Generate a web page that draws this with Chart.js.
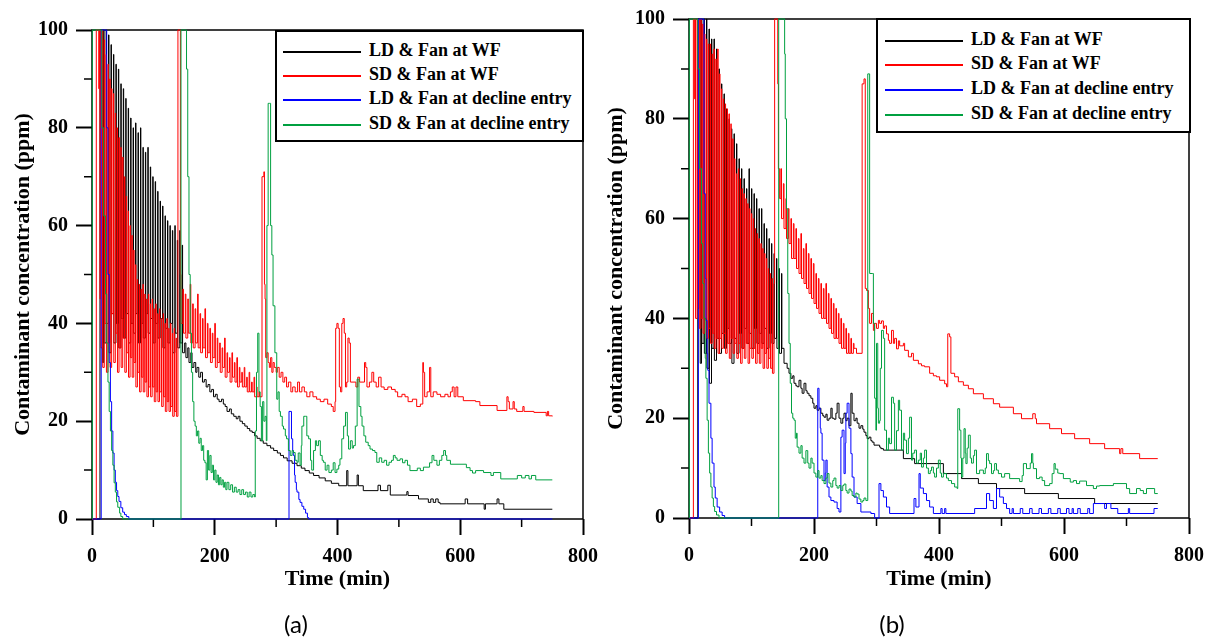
<!DOCTYPE html>
<html>
<head>
<meta charset="utf-8">
<script src="https://cdn.jsdelivr.net/npm/chart.js@4.4.1/dist/chart.umd.min.js"></script>
<style>
  html, body { margin: 0; padding: 0; background: #fff; }
  body { width: 1205px; height: 640px; position: relative; overflow: hidden; }
  .panel { position: absolute; top: 0; height: 640px; }
  .legend { position: absolute; background: #fff; border: 2px solid #000; box-sizing: border-box;
            font: bold 18px "Liberation Serif", "Times New Roman", serif; color: #000; }
  .legend .row { position: absolute; height: 22px; line-height: 22px; white-space: nowrap; }
  .legend .swatch { display: inline-block; width: 78px; height: 0; border-top: 2px solid; vertical-align: middle; margin-right: 8px; }
  .caption { position: absolute; top: 609px; width: 60px; text-align: center; font: 24px Lato, "Open Sans", sans-serif; color: #000; }
</style>
</head>
<body>
<div class="panel" style="left:0;width:600px;"><canvas id="chartA"></canvas></div>
<div class="panel" style="left:600px;width:605px;"><canvas id="chartB"></canvas></div>
<div class="legend" id="legendA" style="left:275px;top:30px;width:309px;height:112px;"></div>
<div class="legend" id="legendB" style="left:876px;top:18px;width:315px;height:115px;"></div>
<div class="caption" style="left:266px;">(a)</div>
<div class="caption" style="left:862px;">(b)</div>
<script>
/* ---- labels / ticks ---- */
const seriesLabels = ["LD & Fan at WF", "SD & Fan at WF", "LD & Fan at decline entry", "SD & Fan at decline entry"];
const seriesColors = ["#000000", "#ff0000", "#0000ff", "#00a040"];
const xTicks = [0, 200, 400, 600, 800];
const yTicks = [0, 20, 40, 60, 80, 100];
const xMinor = [100, 300, 500, 700];
const yMinor = [10, 30, 50, 70, 90];

/* ---- panel (a): [time min, ppm], each value holds until the next point ---- */
const aLdWf = [[0,0],[13,100],[17,32],[19,100],[19.6,36],[23,100],[23.6,40],[27,99],[27.6,34],[31,97],[31.6,42],[35,95],[35.6,36],[39,93],[39.6,40],[43,92],[43.6,35],[47,89],[47.6,41],[51,88],[51.6,37],[55,86],[55.6,42],[59,84],[59.6,36],[63,82],[63.6,40],[67,80],[67.6,38],[71,81],[71.6,42],[75,79],[75.6,36],[79,80],[79.6,40],[83,76],[83.6,37],[87,75],[87.6,42],[91,76],[91.6,38],[95,72],[95.6,41],[99,70],[99.6,36],[103,69],[103.6,40],[107,67],[107.6,37],[111,65],[111.6,41],[115,64],[115.6,35],[119,62],[119.6,39],[123,61],[123.6,36],[127,60],[127.6,40],[131,59],[131.6,34],[135,60],[135.6,38],[139,57],[139.6,35],[143,59],[143.6,36],[147,56],[147.6,34],[151,36],[153,33],[156,35],[158,32],[161,34],[163,31],[166,32],[169,30],[171,31],[174,29],[177,30],[180,28],[183,28.5],[186,27],[189,27.5],[192,26],[195,26.5],[198,25],[201,25.5],[204,24.5],[207,24],[211,24.5],[214,23.5],[217,23],[220,22],[224,22.5],[227,21.5],[231,21],[235,20.5],[238,21],[241,20],[245,19.5],[249,19],[253,18.5],[257,18],[261,17.7],[265,17],[269,16.5],[274,16],[279,15.5],[285,15],[291,14.5],[296,14],[302,13.5],[307,13],[312,12.5],[318,11.9],[326,11.4],[334,10.9],[341,10.4],[347,9.9],[354,9.4],[361,8.9],[370,8.4],[380,7.8],[390,7.3],[402,6.8],[415,9.9],[417,6.8],[432,9],[434,6.8],[442,5.8],[466,6.9],[470,5.8],[482,6.9],[486,4.9],[513,5.6],[515,4.8],[532,4.1],[548,3.4],[552,4.1],[556,3.4],[560,4.1],[564,3.4],[567,3.1],[608,4.1],[612,3.1],[639,2],[641,3.1],[660,4.1],[663,3.1],[671,2],[750,2]];
const aSdWf = [[0,0],[7,100],[11,88],[12,100],[13,45],[14,100],[14.5,35],[17,100],[17.5,31],[20,98],[20.5,40],[23,95],[23.5,30],[26,93],[26.5,36],[29,90],[29.5,31],[32,88],[32.5,42],[35,87],[35.5,32],[38,83],[38.5,38],[41,80],[41.5,30],[44,78],[44.5,35],[47,76],[47.5,31],[50,74],[50.5,37],[53,70],[53.5,30],[56,66],[56.5,34],[59,63],[59.5,29],[62,60],[62.5,33],[65,58],[65.5,29],[68,55],[68.5,32],[71,52],[71.5,27],[74,49],[74.5,30],[77,48],[77.5,26],[80,47],[80.5,29],[83,48],[83.5,26],[86,46],[86.5,28],[89,45],[89.5,25],[92,46],[92.5,27],[95,44],[95.5,25],[98,45],[98.5,27],[101,43],[101.5,24],[104,44],[104.5,26],[107,42],[107.5,24],[110,43],[110.5,26],[113,41],[113.5,23],[116,42],[116.5,25],[119,40],[119.5,22],[122,41],[122.5,24],[125,39],[125.5,22],[128,40],[128.5,23],[131,38],[131.5,21],[134,39],[134.5,22],[137,37],[137.5,21],[140,100],[143,100],[144,50],[145,40],[148,47],[149,38],[152,46],[153,37],[156,45],[157,38],[160,48],[161,36],[164,44],[165,35],[168,43],[169,36],[172,46],[173,35],[176,42],[177,34],[180,41],[181,35],[184,43],[185,33],[188,40],[189,34],[192,39],[193,32],[196,38],[197,33],[200,40],[201,31],[204,37],[205,32],[208,36],[209,30],[212,35],[213,31],[216,37],[217,29],[220,34],[221,30],[224,33],[225,28],[228,34],[229,29],[232,32],[233,28],[236,33],[237,27],[240,31],[241,28],[244,30],[245,27],[248,31],[249,27],[252,29],[253,26],[256,30],[257,26],[260,28],[261,26],[264,29],[265,25],[268,27],[269,25],[272,26],[273,25],[277,70],[280,71],[281,48],[282,45],[283,33],[285,34],[287,32],[289,31],[291,33],[293,30],[295,32],[297,31],[300,30],[302,31],[305,29],[308,30],[311,28],[314,29],[317,27],[320,28],[324,26],[327,27],[331,26],[335,28],[338,26],[342,27],[346,26],[350,25],[355,26],[360,25],[366,24.5],[372,24],[378,24.5],[384,23.5],[390,23],[393,22],[396,24],[397,39],[399,40],[401,39],[403,27],[405,26],[407,40],[409,41],[411,38],[413,27],[415,28],[417,37],[419,36],[421,28],[430,27],[433,29],[436,28],[444,32],[446,31],[448,27],[452,28],[456,30],[459,28],[463,27],[467,29],[471,27],[476,26.5],[482,27],[488,26.5],[494,26],[498,25],[505,25.5],[510,25],[515,24],[522,24.5],[529,23],[535,23.5],[539,32],[540,30],[542,25],[546,26],[550,31],[552,25],[556,26],[562,25.5],[568,25],[575,25.5],[580,25],[584,26],[587,27],[590,25],[593,27],[596,25],[605,24.2],[625,24],[632,23.2],[660,22.2],[676,25],[678,24],[680,22.5],[686,24],[688,22.5],[692,22],[702,23],[704,22],[720,21.8],[740,21.1],[742,22],[744,21.1],[750,21]];
const aLdDe = [[0,0],[15,100],[22,100],[24,80],[26,50],[28,32],[30,24],[32,18],[34,13.5],[36,10],[38,7.5],[40,5.8],[42,4.6],[44,3.6],[47,2.3],[50,1.4],[53,0.9],[56,0.5],[60,0],[321,22],[325,16.4],[327,14],[328,13],[330,9],[331,7.5],[333,6],[334,5.5],[337,4],[339,3.4],[342,2.6],[345,2],[348,1.2],[351,0.3],[353,0],[750,0]];
const aSdDe = [[0,0],[0.5,100],[12,100],[16,80],[19,62],[22,46],[24,36],[26,28],[28,22],[30,18],[32,14],[34,11],[36,7.4],[38,5.5],[40,3.5],[42,2.4],[45,1.2],[47,0.5],[50,0],[145,100],[153,100],[154,92],[156,70],[158,50],[160,38],[162,30],[164,24],[166,20],[168,19],[170,17],[172,18],[174,15.5],[176,16.5],[178,14],[180,15],[182,12],[184,11.5],[186,8],[188,14],[190,10],[192,13],[194,9.5],[196,11],[198,8],[200,10],[202,7.5],[204,9],[206,7],[208,8.5],[210,7],[212,8],[214,6.5],[216,7.5],[218,6],[220,7.5],[223,6],[226,7],[229,5.5],[232,6.5],[235,5.5],[238,6],[241,5],[244,6],[247,5],[250,5.5],[253,4.5],[256,5.5],[259,4.5],[262,5],[265,4.5],[266,18],[268,30],[270,38],[272,26],[274,23],[276,16],[278,24],[280,20],[282,21],[284,16],[285,60],[287,85],[289,85],[291,60],[293,54],[295,43.6],[298,34],[301,24.5],[303,26],[305,22],[307,21],[310,19],[312,18.4],[315,17],[317,16.4],[320,14],[323,13],[326,14],[328,13.6],[331,12],[334,11.6],[336,13.5],[339,11],[341,15],[342,19],[345,21],[348,21],[350,17],[353,16.4],[356,12],[358,10],[361,14],[364,16],[366,15],[369,16],[372,13],[375,12],[377,11.6],[380,10],[383,11],[386,9.5],[390,10],[393,11.5],[396,9.5],[399,10.2],[402,11],[404,12.3],[407,16.4],[410,19],[413,21.8],[416,17],[418,14.3],[421,16],[424,14.5],[426,15],[429,19],[432,28.6],[435,23],[438,21],[440,19],[443,17],[446,15.7],[450,15],[453,14.3],[457,14],[461,13.6],[464,11.6],[468,12.5],[472,11.6],[476,12],[480,11],[484,11.6],[488,12],[491,13],[494,12.5],[497,12],[502,12.3],[506,11.5],[510,12],[514,11],[518,9.9],[530,10.4],[535,9.9],[540,10.6],[550,11.5],[554,13],[557,12],[562,11],[566,12],[570,13],[573,14],[576,13],[578,12],[584,11.2],[610,10.5],[616,9.9],[620,9.4],[625,9.9],[638,9.5],[650,8.9],[654,9.5],[666,8.2],[693,8.9],[700,8.4],[706,8.9],[712,8.2],[716,8.9],[723,8],[750,8]];

/* ---- panel (b) ---- */
const bLdWf = [[0,0],[14,100],[18,31],[20,100],[20.6,35],[24,100],[24.6,33],[28,100],[28.6,30],[32,98],[32.6,27],[36,96],[36.6,34],[40,96],[40.6,31.6],[44,94],[44.6,36],[48,90],[48.6,33],[52,87],[52.6,37],[56,85],[56.6,34],[60,82],[60.6,38],[64,80],[64.6,35],[68,78],[68.6,31],[72,77],[72.6,36],[76,75],[76.6,33],[80,72],[80.6,37],[84,70],[84.6,34],[88,68],[88.6,38],[92,66],[92.6,35],[96,70],[96.6,37],[100,66],[100.6,34],[104,65],[104.6,38],[108,64],[108.6,35],[112,62],[112.6,37],[116,62],[116.6,35],[120,59],[120.6,38],[124,58],[124.6,34],[128,56],[128.6,37],[132,55],[132.6,35],[136,53],[136.6,36],[140,52],[140.6,34],[144,50],[144.6,33],[148,49],[148.6,34],[152,31],[157,30],[160,29],[163,28],[166,28.5],[168,27],[171,26.5],[173,26.3],[176,27.6],[179,26],[181,25],[184,27],[187,25.5],[189,25],[192,24.5],[195,24],[198,23],[200,22],[203,22.5],[205,21.6],[208,22],[211,21],[214,20.5],[216,20.2],[219,20.8],[221,19.6],[224,20],[227,22],[229,20],[232,19.8],[235,21],[237,23],[240,20],[243,19],[246,20],[248,21],[251,19.5],[253,20],[256,18.5],[259,25],[261,21],[264,19.5],[267,20],[269,19],[272,18],[275,18.5],[278,17.8],[280,17.2],[283,16.5],[285,15.9],[288,16.2],[291,15.5],[293,15.2],[296,14.6],[305,14.2],[307,13.9],[311,13.6],[343,11.9],[361,10.9],[407,8.9],[436,7.9],[463,6.9],[492,5.9],[537,4.9],[591,3.9],[649,2.9],[750,2.9]];
const bSdWf = [[0,0],[7,100],[9,84],[10,100],[10.5,40],[13,100],[13.5,42],[16,100],[16.5,38],[19,100],[19.5,40],[22,99],[22.5,37],[25,97],[25.5,40],[28,96],[28.5,36],[31,95],[31.5,38],[34,95],[34.5,35],[37,93],[37.5,37],[40,94],[40.5,34],[43,92],[43.5,36],[46,94],[46.5,33],[49,89],[49.5,36],[52,86],[52.5,34],[55,84],[55.5,37],[58,83],[58.5,33],[61,82],[61.5,35],[64,81],[64.5,32],[67,79],[67.5,36],[70,76],[70.5,33],[73,72],[73.5,35],[76,69],[76.5,32],[79,70],[79.5,35],[82,68],[82.5,31],[85,66],[85.5,34],[88,65],[88.5,32],[91,64],[91.5,35],[94,63],[94.5,31],[97,62],[97.5,34],[100,61],[100.5,32],[103,60],[103.5,34],[106,58],[106.5,31],[109,57],[109.5,33],[112,56],[112.5,31],[115,55],[115.5,34],[118,54],[118.5,30],[121,53],[121.5,33],[124,52],[124.5,30],[127,50],[127.5,32],[130,49],[130.5,30],[133,48],[133.5,29],[136,47],[137,100],[141,100],[142,87],[143,70],[145,64],[147,70],[148,60],[151,67],[152,58],[155,64],[156,56],[159,62],[160,55],[163,60],[164,52],[167,59],[168,52],[171,58],[172,50],[175,56],[176,49],[179,57],[180,48],[183,54],[184,47],[187,55],[188,46],[191,53],[192,45],[195,52],[196,44],[199,51],[200,43],[203,49],[204,42],[207,48],[208,41],[211,47],[212,40],[215,46],[216,40],[219,47],[220,39],[223,45],[224,38],[227,44],[228,37],[231,43],[232,36],[235,42],[236,36],[239,41],[240,35],[243,40],[244,34],[247,39],[248,34],[251,38],[252,33],[255,37],[256,33],[259,36],[260,33],[263,35],[264,34],[267,34],[268,33],[277,87],[280,88],[282,46],[284,45.6],[287,42],[289,39],[292,41],[295,37.6],[297,39],[300,38],[303,39.6],[305,39],[308,39.5],[311,38],[313,38.5],[316,36.9],[319,35.6],[321,35],[324,37.6],[327,35],[329,36],[332,33.9],[335,35.5],[337,34.5],[343,35],[345,33.6],[351,32.3],[356,33],[359,31.6],[367,30.9],[372,30.5],[377,30.3],[385,29],[391,28.5],[396,28.3],[401,27.6],[409,26.9],[412,26.3],[414,36.9],[417,36.3],[419,29],[425,28.3],[431,27.3],[439,26.6],[447,25.9],[455,24.9],[471,23.9],[487,22.9],[497,22.2],[519,20.9],[532,19.9],[550,20.9],[554,19.9],[556,18.9],[577,17.9],[596,16.9],[617,15.9],[641,14.9],[665,13.9],[689,12.9],[691,13.9],[694,12.9],[721,11.9],[750,11.9]];
const bLdDe = [[0,0],[15,100],[22,100],[24,65],[26,48],[27,39.6],[29,33],[30,29.6],[32,23],[35,16],[37,11],[40,6.2],[42,4],[45,2.2],[49,1.2],[53,0.5],[57,0],[206,26],[208,22],[210,18],[211,17],[213,11.6],[216,7.5],[218,9],[219,11.6],[221,6.2],[224,4.2],[227,3.5],[232,3.2],[237,1.9],[240,1.2],[243,16.2],[245,17.6],[248,8.9],[250,15],[251,21],[253,23],[256,18],[259,12.9],[261,8.2],[264,4.2],[269,2.9],[275,1.2],[291,0.9],[297,0],[304,6.9],[307,5.5],[311,4.2],[316,2.2],[321,0.9],[360,3.9],[363,2.2],[368,8.9],[370,6],[375,4.9],[380,3.5],[385,2.2],[391,0.9],[403,1.9],[405,0.9],[409,1.9],[411,0.9],[457,1.9],[476,4.9],[481,3.5],[487,1.9],[492,5.9],[497,4.2],[503,2.9],[508,1.9],[513,0.9],[517,1.9],[519,0.9],[530,1.9],[534,0.9],[545,1.9],[549,0.9],[560,1.9],[564,0.9],[575,1.9],[579,0.9],[590,1.9],[594,0.9],[604,1.9],[608,0.9],[613,1.9],[615,0.9],[622,1.9],[626,0.9],[638,1.9],[641,0.9],[647,2.9],[665,1.9],[668,2.9],[675,1.9],[686,0.9],[703,1.9],[705,0.9],[744,1.9],[750,1.9]];
const bSdDe = [[0,0],[0.5,100],[12,100],[14,90],[17,70],[20,55],[22,47],[24,40],[26,32],[27,28],[29,19.6],[31,13],[33,9],[35,6.2],[37,4],[39,2.3],[41,1.3],[44,0.6],[48,0],[143.5,100],[152,100],[153,93],[154,80],[156,62],[158,45],[160,35],[162,27],[164,21],[166,20],[168,19.6],[170,16],[172,17],[173,14.2],[176,13],[179,14.5],[181,12],[184,11],[187,13.5],[190,11],[192,10],[195,12],[197,11],[200,9],[203,8.2],[206,9.5],[208,8],[211,8.5],[213,7.5],[216,6.9],[219,8],[221,8.9],[224,7],[227,6.2],[230,7.5],[232,8],[235,6.5],[237,6],[240,6.5],[243,5.5],[246,6.5],[248,6.8],[251,5.5],[253,5],[256,5.8],[259,5.4],[261,4.5],[264,4.2],[267,5],[269,4.8],[272,3.8],[275,3.2],[278,3.5],[280,4],[283,3.5],[286,89],[288,89],[289,49],[294,49],[295,39],[297,24],[299,17.6],[300,35],[302,22],[303,19],[305,19.5],[306,30],[308,37.6],[311,36],[313,17.6],[316,13.6],[319,16],[321,14.9],[324,24.2],[327,23],[329,13.6],[332,17.5],[335,23.6],[337,21.6],[340,13.6],[343,17],[345,15.6],[348,12.9],[351,16],[353,20.2],[356,11.6],[358,13],[361,13.6],[364,11],[367,11.6],[370,13],[372,10.2],[375,12],[377,13.6],[380,10],[383,8.9],[386,9.5],[388,10.2],[391,9],[393,8.2],[396,10],[399,11.6],[402,9],[404,8.2],[407,9],[409,8.9],[412,8],[415,7.5],[420,6.9],[425,6.2],[429,5.9],[430,21.9],[433,17.6],[435,12],[436,8.2],[438,12],[440,17.9],[442,13],[443,10.9],[445,14],[447,16.6],[450,12],[452,11],[455,12.5],[457,13.6],[460,8.9],[465,9.6],[471,8.9],[474,10],[476,12.9],[479,11.5],[481,10.9],[484,8.9],[487,9.5],[489,10.9],[492,9.6],[495,8.9],[500,8.2],[505,8.9],[513,7.9],[529,7.3],[533,8.5],[535,10.9],[540,9.9],[546,11],[548,12.9],[550,11],[551,9.9],[556,7.9],[561,8.2],[565,7.5],[569,6.5],[577,6.9],[581,8.9],[584,10.9],[586,9.8],[590,9],[593,8.9],[599,7.9],[610,7.2],[615,7.5],[620,6.9],[625,7.4],[636,6.5],[647,5.9],[652,6.4],[657,6.5],[679,6.9],[700,5.9],[705,4.9],[716,5.9],[722,5.5],[727,4.9],[732,5.9],[745,4.9],[750,4.9]];

Chart.defaults.font.family = '"Liberation Serif", "Times New Roman", serif';
Chart.defaults.color = '#000';

// frame round the plot + short minor ticks (drawn under the data, like the original)
const frameAndMinor = {
  id: 'frameAndMinor',
  beforeDatasetsDraw(chart) {
    const { ctx, chartArea: a, scales: { x, y } } = chart;
    ctx.save();
    ctx.strokeStyle = '#000';
    ctx.lineWidth = 1.5;
    ctx.strokeRect(a.left, a.top, a.right - a.left, a.bottom - a.top);
    ctx.beginPath();
    xMinor.forEach(v => { const px = x.getPixelForValue(v); ctx.moveTo(px, a.bottom); ctx.lineTo(px, a.bottom + 8); });
    yMinor.forEach(v => { const py = y.getPixelForValue(v); ctx.moveTo(a.left, py); ctx.lineTo(a.left - 8, py); });
    ctx.stroke();
    ctx.restore();
  }
};

function makeChart(id, series, g) {
  return new Chart(document.getElementById(id), {
    type: 'line',
    data: {
      datasets: series.map((pts, i) => ({
        label: seriesLabels[i],
        data: pts.map(p => ({ x: p[0], y: p[1] })),
        borderColor: seriesColors[i],
        borderWidth: 1,
        pointRadius: 0,
        stepped: true,
        fill: false,
        order: 4 - i,
        clip: 2
      }))
    },
    options: {
      responsive: true,
      maintainAspectRatio: false,
      animation: false,
      events: [],
      layout: { padding: g.padding },
      plugins: { legend: { display: false }, tooltip: { enabled: false } },
      scales: {
        x: {
          type: 'linear', min: 0, max: 800,
          afterBuildTicks: s => { s.ticks = xTicks.map(v => ({ value: v })); },
          afterFit: s => { s.height = g.xAxisH; s.paddingLeft = 0; s.paddingRight = 0; },
          ticks: { font: { size: 20, weight: 'bold' }, padding: 10, maxRotation: 0, autoSkip: false },
          grid: { drawOnChartArea: false, drawTicks: true, tickLength: 16, tickWidth: 2, tickColor: '#000' },
          border: { display: false },
          title: { display: true, text: 'Time (min)', font: { size: 22, weight: 'bold' }, padding: { top: 0, bottom: g.xTitlePad } }
        },
        y: {
          type: 'linear', min: 0, max: 100,
          afterBuildTicks: s => { s.ticks = yTicks.map(v => ({ value: v })); },
          afterFit: s => { s.width = g.yAxisW; s.paddingTop = 0; s.paddingBottom = 0; },
          ticks: { font: { size: 20, weight: 'bold' }, padding: 8 },
          grid: { drawOnChartArea: false, drawTicks: true, tickLength: 16, tickWidth: 2, tickColor: '#000' },
          border: { display: false },
          title: { display: true, text: 'Contaminant concentration (ppm)', font: { size: 22, weight: 'bold' }, padding: { top: g.yTitlePad, bottom: 0 } }
        }
      }
    },
    plugins: [frameAndMinor]
  });
}

function buildLegend(id, rowTops, left) {
  const box = document.getElementById(id);
  seriesLabels.forEach((lab, i) => {
    const row = document.createElement('div');
    row.className = 'row';
    row.style.top = rowTops[i] + 'px';
    row.style.left = left + 'px';
    const sw = document.createElement('span');
    sw.className = 'swatch';
    sw.style.borderTopColor = seriesColors[i];
    row.appendChild(sw);
    row.appendChild(document.createTextNode(lab));
    box.appendChild(row);
  });
}

makeChart('chartA', [aLdWf, aSdWf, aLdDe, aSdDe],
  { padding: { left: 0, top: 30, right: 17, bottom: 40 }, yAxisW: 92, xAxisH: 81, yTitlePad: 10, xTitlePad: 7 });
makeChart('chartB', [bLdWf, bSdWf, bLdDe, bSdDe],
  { padding: { left: 0, top: 19, right: 16, bottom: 41 }, yAxisW: 89, xAxisH: 81, yTitlePad: 3, xTitlePad: 6 });

buildLegend('legendA', [7, 31, 55, 80], 6);
buildLegend('legendB', [8, 32, 57, 82], 7);
</script>
</body>
</html>
